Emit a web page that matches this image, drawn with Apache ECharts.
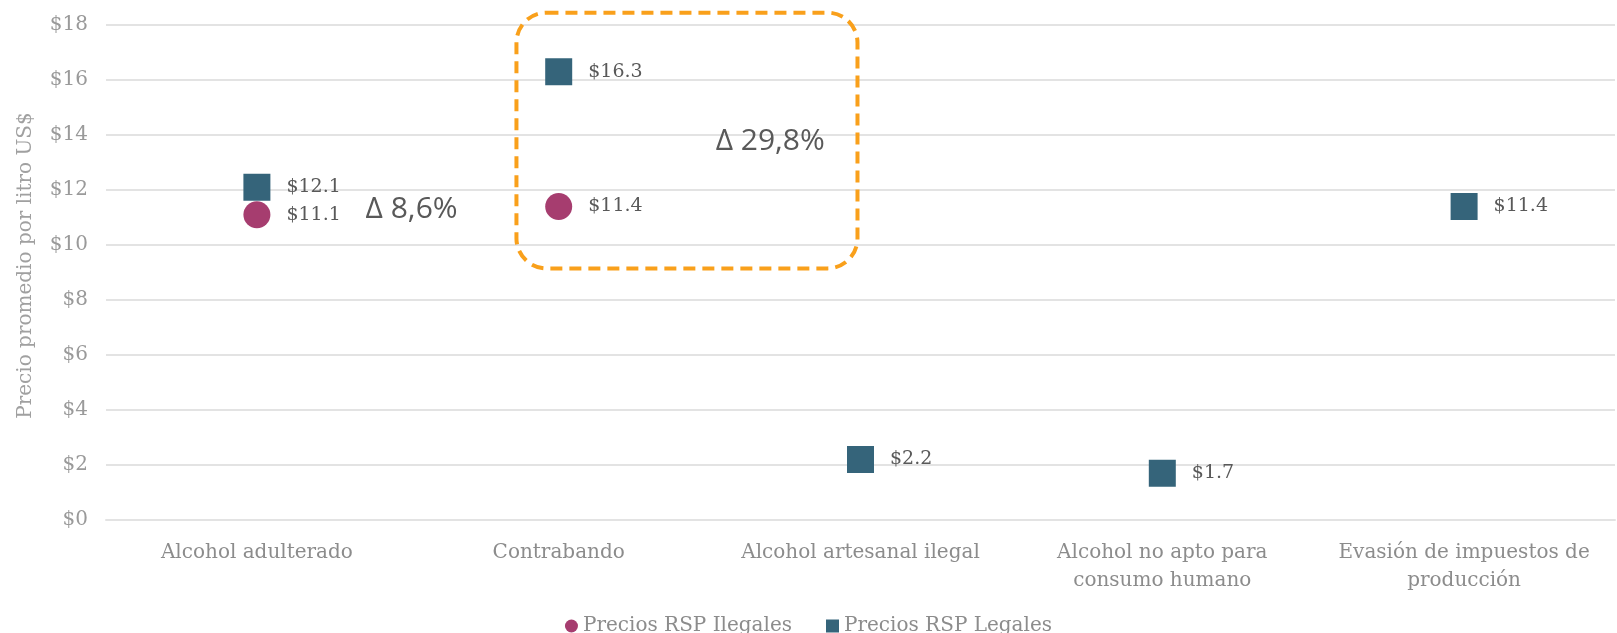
<!DOCTYPE html>
<html>
<head>
<meta charset="utf-8">
<script src="https://cdn.jsdelivr.net/npm/echarts@6/dist/echarts.min.js"></script>
<style>
  html, body { margin: 0; padding: 0; background: #fff; }
  #chart { width: 1617px; height: 633px; }
</style>
</head>
<body>
<div id="chart"></div>
<script>
const categories = [
  "Alcohol adulterado",
  "Contrabando",
  "Alcohol artesanal ilegal",
  "Alcohol no apto para\nconsumo humano",
  "Evasión de impuestos de\nproducción",
];
const illegalPrices = [11.1, 11.4, null, null, null];
const legalPrices = [12.1, 16.3, 2.2, 1.7, 11.4];
const yTicks = { min: 0, max: 18, interval: 2 };

// notas de diferencia (x en unidades de categoría, y en US$)
const deltaNotes = [
  { text: "Δ 8,6%", x: 0.36, y: 11.3 },
  { text: "Δ 29,8%", x: 1.52, y: 13.75 },
];
// recuadro alrededor de Contrabando
const highlightBox = { x0: 0.86, x1: 1.99, y0: 9.15, y1: 18.45 };

const serif = "'DejaVu Serif', 'Liberation Serif', serif";
const sans = "'Open Sans', 'Liberation Sans', sans-serif";

const chart = echarts.init(document.getElementById("chart"));

function money(v) {
  return "$" + v;
}

function pointLabel(p) {
  return "$" + p.value.toFixed(1);
}

const labelStyle = {
  show: true,
  position: "right",
  distance: 16,
  formatter: pointLabel,
  fontFamily: serif,
  fontSize: 19,
  color: "#595959",
};

const option = {
  animation: false,
  grid: { left: 106, right: 2, top: 25, bottom: 113 },
  legend: {
    top: 611,
    left: "center",
    itemWidth: 13,
    itemHeight: 13,
    itemGap: 34,
    textStyle: { fontFamily: serif, fontSize: 20, color: "#8c8c8c" },
    data: [
      { name: "Precios RSP Ilegales", icon: "circle" },
      { name: "Precios RSP Legales", icon: "rect" },
    ],
  },
  xAxis: {
    type: "category",
    data: categories,
    axisLine: { lineStyle: { color: "#e3e3e3", width: 2 } },
    axisTick: { show: false },
    axisLabel: {
      interval: 0,
      margin: 19,
      fontFamily: serif,
      fontSize: 20,
      lineHeight: 28,
      color: "#8c8c8c",
    },
  },
  yAxis: {
    type: "value",
    min: yTicks.min,
    max: yTicks.max,
    interval: yTicks.interval,
    name: "Precio promedio por litro US$",
    nameLocation: "middle",
    nameGap: 70,
    nameTextStyle: {
      fontFamily: serif,
      fontSize: 20,
      color: "#a0a0a0",
      padding: [0, 0, 0, 14],
    },
    axisLine: { show: false },
    axisTick: { show: false },
    axisLabel: {
      formatter: money,
      margin: 18,
      fontFamily: serif,
      fontSize: 20,
      color: "#9a9a9a",
    },
    splitLine: { lineStyle: { color: "#e3e3e3", width: 2 } },
  },
  series: [
    {
      name: "Precios RSP Ilegales",
      type: "scatter",
      symbol: "circle",
      symbolSize: 27,
      data: illegalPrices,
      itemStyle: { color: "#a63d6f", opacity: 1 },
      label: labelStyle,
    },
    {
      name: "Precios RSP Legales",
      type: "scatter",
      symbol: "rect",
      symbolSize: 27,
      data: legalPrices,
      itemStyle: { color: "#35647a", opacity: 1 },
      label: labelStyle,
    },
  ],
};

chart.setOption(option);

// convierte posición de categoría (puede ser fraccional) a píxel
function catToPx(c) {
  const a = chart.convertToPixel({ xAxisIndex: 0 }, 0);
  const b = chart.convertToPixel({ xAxisIndex: 0 }, 1);
  return a + (b - a) * c;
}

function valToPx(v) {
  return chart.convertToPixel({ yAxisIndex: 0 }, v);
}

const bx0 = catToPx(highlightBox.x0);
const bx1 = catToPx(highlightBox.x1);
const by0 = valToPx(highlightBox.y1);
const by1 = valToPx(highlightBox.y0);

const graphics = [
  {
    type: "rect",
    shape: { x: bx0, y: by0, width: bx1 - bx0, height: by1 - by0, r: 30 },
    style: { fill: "none", stroke: "#f9a01b", lineWidth: 4, lineDash: [12, 7] },
    z: 1,
  },
];

deltaNotes.forEach((n) => {
  graphics.push({
    type: "text",
    x: catToPx(n.x),
    y: valToPx(n.y),
    style: {
      text: n.text,
      font: "30px " + sans,
      fill: "#595959",
      verticalAlign: "middle",
    },
    z: 5,
  });
});

chart.setOption({ graphic: graphics });
</script>
</body>
</html>
